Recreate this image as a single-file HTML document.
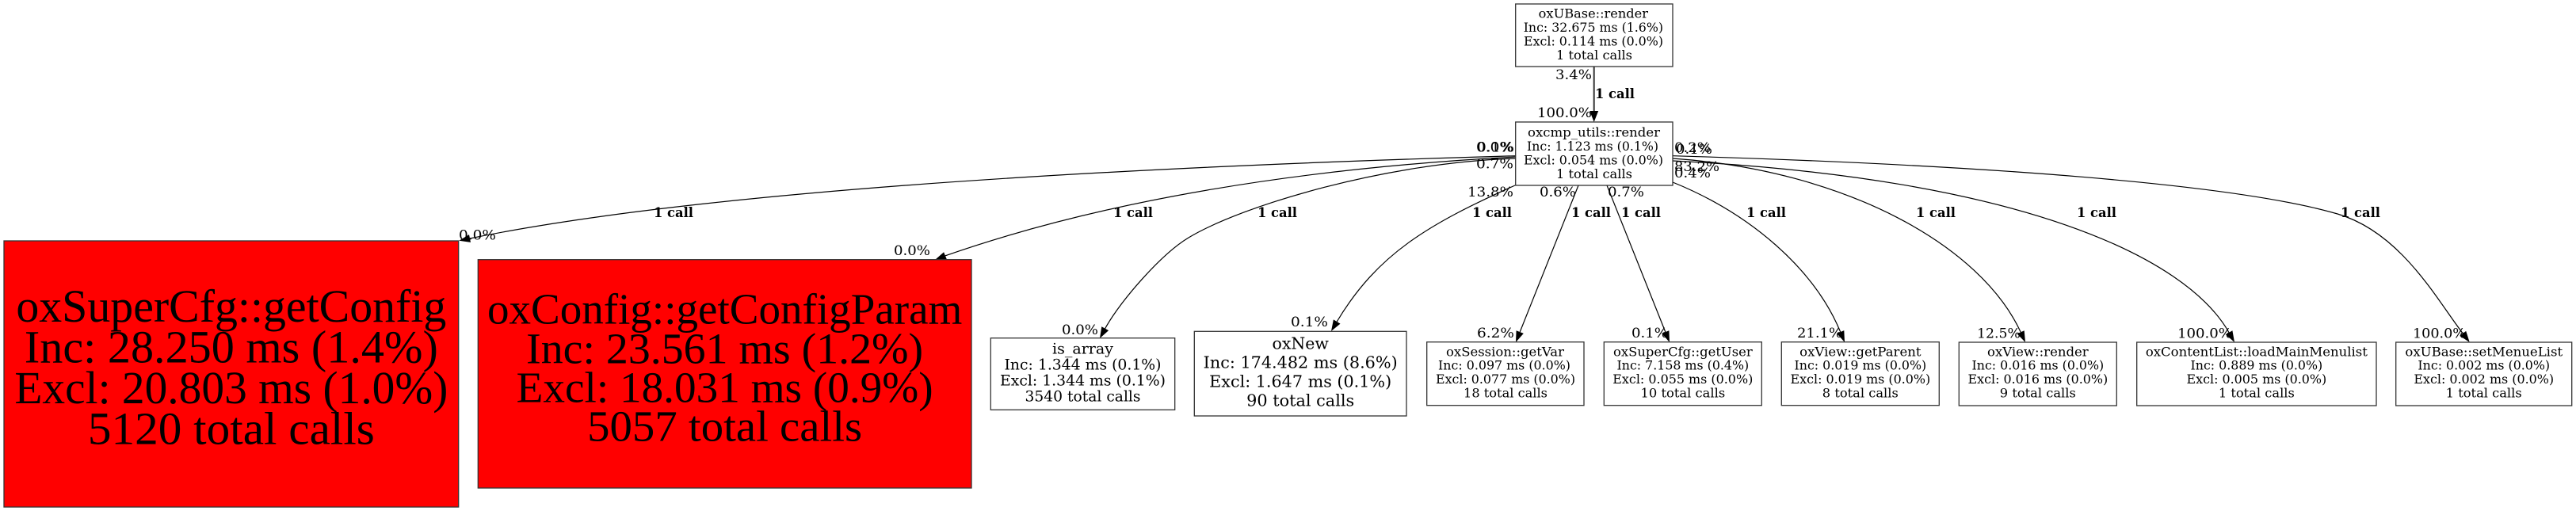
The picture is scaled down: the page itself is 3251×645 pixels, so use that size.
<!DOCTYPE html>
<html><head><meta charset="utf-8"><style>
html,body{margin:0;padding:0;background:#fff;}
svg{display:block;}
.n{font-family:"DejaVu Serif","Liberation Serif",serif;font-size:16px;fill:#000;}
.m{font-family:"DejaVu Serif","Liberation Serif",serif;font-size:18.5px;fill:#000;}
.o{font-family:"DejaVu Serif","Liberation Serif",serif;font-size:20.5px;fill:#000;}
.b1{font-family:"Liberation Serif","DejaVu Serif",serif;font-size:58px;fill:#000;}
.b2{font-family:"Liberation Serif","DejaVu Serif",serif;font-size:55px;fill:#000;}
.l{font-family:"DejaVu Serif","Liberation Serif",serif;font-size:16.5px;fill:#000;}
.c{font-family:"DejaVu Serif","Liberation Serif",serif;font-size:16.5px;font-weight:bold;fill:#000;}
.e{fill:none;stroke:#000;stroke-width:1.2;}
.box{fill:#fff;stroke:#333;stroke-width:1.3;}
.red{fill:#ff0000;stroke:#333;stroke-width:1.3;}
</style></head><body>
<svg width="3251" height="645" viewBox="0 0 3251 645" xmlns="http://www.w3.org/2000/svg">
<rect x="0" y="0" width="3251" height="645" fill="#fff"/>

<!-- edges -->
<path d="M2011.7,84 L2011.7,141" fill="none" stroke="#333" stroke-width="2"/>
<polygon points="2006.2,140 2017.2,140 2011.7,154" fill="#000"/>

<path class="e" d="M1913,196.7 C1450,210 900,238 593,301"/>
<polygon points="592,296.1 594,305.9 579.3,303.8" fill="#000"/>

<path class="e" d="M1913,198 C1650,212 1400,250.5 1193,322.8"/>
<polygon points="1191.1,318.2 1194.9,327.4 1180,328" fill="#000"/>

<path class="e" d="M1913,200 C1750,205 1568.6,258.9 1500,300 C1465.7,320.6 1413.9,379.6 1394.7,414.7"/>
<polygon points="1390.3,412.3 1399.1,417.1 1388,427" fill="#000"/>

<path class="e" d="M1912,234 C1802.4,283 1738.6,320.2 1687.2,406"/>
<polygon points="1682.9,403.4 1691.5,408.6 1680,418" fill="#000"/>

<path class="e" d="M1992,234 L1918.2,419"/>
<polygon points="1913.6,417.2 1922.8,420.9 1913,432" fill="#000"/>

<path class="e" d="M2028,234 L2101.8,419"/>
<polygon points="2106.4,417.2 2097.2,420.9 2107,432" fill="#000"/>

<path class="e" d="M2111,230 C2210,270 2290,340 2322.7,419"/>
<polygon points="2327.3,417.1 2318.1,420.9 2328,432" fill="#000"/>

<path class="e" d="M2111,200 C2330,215 2500,310 2550.2,419.3"/>
<polygon points="2554.7,417.2 2545.6,421.4 2556,432" fill="#000"/>

<path class="e" d="M2111,203 C2550,225 2758.9,324.1 2813.1,419.8"/>
<polygon points="2817.4,417.3 2808.8,422.3 2820,432" fill="#000"/>

<path class="e" d="M2111,196.7 C2500,208 2820,232 2950,270 C3030,293.4 3075,377.6 3108.2,420.9"/>
<polygon points="3112.2,417.9 3104.2,423.9 3116.7,432" fill="#000"/>

<!-- nodes -->
<rect class="box" x="1912.7" y="5" width="198.3" height="79"/>
<text class="n" x="1941.7" y="22.7" textLength="138.3" lengthAdjust="spacingAndGlyphs">oxUBase::render</text>
<text class="n" x="1922.7" y="40.2" textLength="176.3" lengthAdjust="spacingAndGlyphs">Inc: 32.675 ms (1.6%)</text>
<text class="n" x="1923" y="57.7" textLength="176" lengthAdjust="spacingAndGlyphs">Excl: 0.114 ms (0.0%)</text>
<text class="n" x="1964" y="75.2" textLength="96" lengthAdjust="spacingAndGlyphs">1 total calls</text>

<rect class="box" x="1912.7" y="154" width="198.3" height="80"/>
<text class="n" x="1928" y="172.5" textLength="167" lengthAdjust="spacingAndGlyphs">oxcmp_utils::render</text>
<text class="n" x="1927" y="190" textLength="166" lengthAdjust="spacingAndGlyphs">Inc: 1.123 ms (0.1%)</text>
<text class="n" x="1923" y="207.5" textLength="176" lengthAdjust="spacingAndGlyphs">Excl: 0.054 ms (0.0%)</text>
<text class="n" x="1964" y="225" textLength="96" lengthAdjust="spacingAndGlyphs">1 total calls</text>

<rect class="red" x="5" y="304" width="573.7" height="336"/>
<text class="b1" x="20.35" y="406" textLength="543" lengthAdjust="spacingAndGlyphs">oxSuperCfg::getConfig</text>
<text class="b1" x="30.85" y="457.5" textLength="522" lengthAdjust="spacingAndGlyphs">Inc: 28.250 ms (1.4%)</text>
<text class="b1" x="18.35" y="509" textLength="547" lengthAdjust="spacingAndGlyphs">Excl: 20.803 ms (1.0%)</text>
<text class="b1" x="110.85" y="560.5" textLength="362" lengthAdjust="spacingAndGlyphs">5120 total calls</text>

<rect class="red" x="603.3" y="327.7" width="622.7" height="288.3"/>
<text class="b2" x="614.95" y="408.3" textLength="599.4" lengthAdjust="spacingAndGlyphs">oxConfig::getConfigParam</text>
<text class="b2" x="664.15" y="458.3" textLength="501" lengthAdjust="spacingAndGlyphs">Inc: 23.561 ms (1.2%)</text>
<text class="b2" x="651.65" y="507.3" textLength="526" lengthAdjust="spacingAndGlyphs">Excl: 18.031 ms (0.9%)</text>
<text class="b2" x="741.15" y="556.7" textLength="347" lengthAdjust="spacingAndGlyphs">5057 total calls</text>

<rect class="box" x="1250.3" y="426.7" width="232.4" height="90.6"/>
<text class="m" x="1328" y="446.7" textLength="77" lengthAdjust="spacingAndGlyphs">is_array</text>
<text class="m" x="1267.5" y="466.7" textLength="198" lengthAdjust="spacingAndGlyphs">Inc: 1.344 ms (0.1%)</text>
<text class="m" x="1262" y="486.7" textLength="209" lengthAdjust="spacingAndGlyphs">Excl: 1.344 ms (0.1%)</text>
<text class="m" x="1293.5" y="506.7" textLength="146" lengthAdjust="spacingAndGlyphs">3540 total calls</text>

<rect class="box" x="1507.3" y="418.3" width="267.7" height="106.7"/>
<text class="o" x="1605.5" y="440.5" textLength="71.4" lengthAdjust="spacingAndGlyphs">oxNew</text>
<text class="o" x="1518.7" y="464.5" textLength="245" lengthAdjust="spacingAndGlyphs">Inc: 174.482 ms (8.6%)</text>
<text class="o" x="1526.2" y="488.5" textLength="230" lengthAdjust="spacingAndGlyphs">Excl: 1.647 ms (0.1%)</text>
<text class="o" x="1573.2" y="512.5" textLength="136" lengthAdjust="spacingAndGlyphs">90 total calls</text>

<rect class="box" x="1800.7" y="431.7" width="198.3" height="80"/>
<text class="n" x="1825" y="449.3" textLength="149" lengthAdjust="spacingAndGlyphs">oxSession::getVar</text>
<text class="n" x="1815" y="466.7" textLength="167" lengthAdjust="spacingAndGlyphs">Inc: 0.097 ms (0.0%)</text>
<text class="n" x="1812" y="484" textLength="176" lengthAdjust="spacingAndGlyphs">Excl: 0.077 ms (0.0%)</text>
<text class="n" x="1847" y="501.3" textLength="106" lengthAdjust="spacingAndGlyphs">18 total calls</text>

<rect class="box" x="2024.3" y="431.7" width="199" height="80"/>
<text class="n" x="2036" y="449.3" textLength="175.7" lengthAdjust="spacingAndGlyphs">oxSuperCfg::getUser</text>
<text class="n" x="2040.5" y="466.7" textLength="166.7" lengthAdjust="spacingAndGlyphs">Inc: 7.158 ms (0.4%)</text>
<text class="n" x="2035.3" y="484" textLength="177" lengthAdjust="spacingAndGlyphs">Excl: 0.055 ms (0.0%)</text>
<text class="n" x="2070.5" y="501.3" textLength="106.7" lengthAdjust="spacingAndGlyphs">10 total calls</text>

<rect class="box" x="2248.3" y="431.7" width="199" height="80"/>
<text class="n" x="2271.2" y="449.3" textLength="153.3" lengthAdjust="spacingAndGlyphs">oxView::getParent</text>
<text class="n" x="2264.5" y="466.7" textLength="166.7" lengthAdjust="spacingAndGlyphs">Inc: 0.019 ms (0.0%)</text>
<text class="n" x="2259.5" y="484" textLength="176.7" lengthAdjust="spacingAndGlyphs">Excl: 0.019 ms (0.0%)</text>
<text class="n" x="2299.8" y="501.3" textLength="96" lengthAdjust="spacingAndGlyphs">8 total calls</text>

<rect class="box" x="2472.3" y="432" width="199" height="80"/>
<text class="n" x="2508" y="449.3" textLength="127.7" lengthAdjust="spacingAndGlyphs">oxView::render</text>
<text class="n" x="2488.5" y="466.7" textLength="166.7" lengthAdjust="spacingAndGlyphs">Inc: 0.016 ms (0.0%)</text>
<text class="n" x="2483.5" y="484" textLength="176.7" lengthAdjust="spacingAndGlyphs">Excl: 0.016 ms (0.0%)</text>
<text class="n" x="2523.8" y="501.3" textLength="96" lengthAdjust="spacingAndGlyphs">9 total calls</text>

<rect class="box" x="2696.7" y="432" width="302.3" height="80"/>
<text class="n" x="2707.85" y="449.3" textLength="280" lengthAdjust="spacingAndGlyphs">oxContentList::loadMainMenulist</text>
<text class="n" x="2764.5" y="466.7" textLength="166.7" lengthAdjust="spacingAndGlyphs">Inc: 0.889 ms (0.0%)</text>
<text class="n" x="2759.5" y="484" textLength="176.7" lengthAdjust="spacingAndGlyphs">Excl: 0.005 ms (0.0%)</text>
<text class="n" x="2799.85" y="501.3" textLength="96" lengthAdjust="spacingAndGlyphs">1 total calls</text>

<rect class="box" x="3023.7" y="432" width="222" height="80"/>
<text class="n" x="3035.4" y="449.3" textLength="198.7" lengthAdjust="spacingAndGlyphs">oxUBase::setMenueList</text>
<text class="n" x="3051.4" y="466.7" textLength="166.7" lengthAdjust="spacingAndGlyphs">Inc: 0.002 ms (0.0%)</text>
<text class="n" x="3046.4" y="484" textLength="176.7" lengthAdjust="spacingAndGlyphs">Excl: 0.002 ms (0.0%)</text>
<text class="n" x="3086.7" y="501.3" textLength="96" lengthAdjust="spacingAndGlyphs">1 total calls</text>

<!-- edge labels -->
<text class="l" x="1963" y="100" textLength="46" lengthAdjust="spacingAndGlyphs">3.4%</text>
<text class="c" x="2013" y="124" textLength="50" lengthAdjust="spacingAndGlyphs">1 call</text>
<text class="l" x="1940" y="148" textLength="69" lengthAdjust="spacingAndGlyphs">100.0%</text>

<text class="l" x="1863" y="191.7" textLength="47" lengthAdjust="spacingAndGlyphs">0.0%</text>
<text class="l" x="1864" y="191.7" textLength="47" lengthAdjust="spacingAndGlyphs">0.1%</text>
<text class="l" x="1863" y="212.7" textLength="47" lengthAdjust="spacingAndGlyphs">0.7%</text>
<text class="l" x="1852" y="248" textLength="58" lengthAdjust="spacingAndGlyphs">13.8%</text>
<text class="l" x="1943" y="248" textLength="46" lengthAdjust="spacingAndGlyphs">0.6%</text>
<text class="l" x="2029" y="248" textLength="46" lengthAdjust="spacingAndGlyphs">0.7%</text>
<text class="l" x="2113" y="192" textLength="46" lengthAdjust="spacingAndGlyphs">0.2%</text>
<text class="l" x="2115" y="194" textLength="46" lengthAdjust="spacingAndGlyphs">0.1%</text>
<text class="l" x="2113" y="216" textLength="57" lengthAdjust="spacingAndGlyphs">83.2%</text>
<text class="l" x="2113" y="224" textLength="46" lengthAdjust="spacingAndGlyphs">0.4%</text>

<text class="l" x="579" y="302.7" textLength="47" lengthAdjust="spacingAndGlyphs">0.0%</text>
<text class="l" x="1128" y="322" textLength="46" lengthAdjust="spacingAndGlyphs">0.0%</text>
<text class="l" x="1340" y="422" textLength="46" lengthAdjust="spacingAndGlyphs">0.0%</text>
<text class="l" x="1629" y="412" textLength="47" lengthAdjust="spacingAndGlyphs">0.1%</text>
<text class="l" x="1864" y="426" textLength="47" lengthAdjust="spacingAndGlyphs">6.2%</text>
<text class="l" x="2059" y="426" textLength="46" lengthAdjust="spacingAndGlyphs">0.1%</text>
<text class="l" x="2268" y="426" textLength="57" lengthAdjust="spacingAndGlyphs">21.1%</text>
<text class="l" x="2495" y="426.7" textLength="55" lengthAdjust="spacingAndGlyphs">12.5%</text>
<text class="l" x="2748" y="426.7" textLength="69" lengthAdjust="spacingAndGlyphs">100.0%</text>
<text class="l" x="3045" y="426.7" textLength="67" lengthAdjust="spacingAndGlyphs">100.0%</text>

<text class="c" x="825" y="274" textLength="50" lengthAdjust="spacingAndGlyphs">1 call</text>
<text class="c" x="1405" y="274" textLength="50" lengthAdjust="spacingAndGlyphs">1 call</text>
<text class="c" x="1587" y="274" textLength="50" lengthAdjust="spacingAndGlyphs">1 call</text>
<text class="c" x="1858" y="274" textLength="50" lengthAdjust="spacingAndGlyphs">1 call</text>
<text class="c" x="1983" y="274" textLength="50" lengthAdjust="spacingAndGlyphs">1 call</text>
<text class="c" x="2046" y="274" textLength="50" lengthAdjust="spacingAndGlyphs">1 call</text>
<text class="c" x="2204" y="274" textLength="50" lengthAdjust="spacingAndGlyphs">1 call</text>
<text class="c" x="2418" y="274" textLength="50" lengthAdjust="spacingAndGlyphs">1 call</text>
<text class="c" x="2621" y="274" textLength="50" lengthAdjust="spacingAndGlyphs">1 call</text>
<text class="c" x="2954" y="274" textLength="50" lengthAdjust="spacingAndGlyphs">1 call</text>
</svg>
</body></html>
